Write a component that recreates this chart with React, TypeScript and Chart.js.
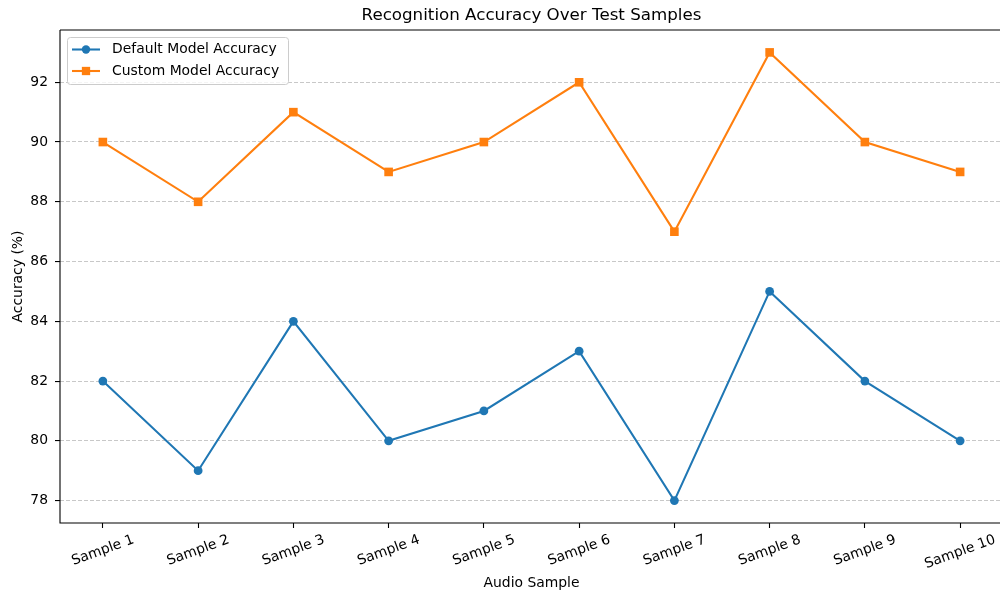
import React, { useEffect, useRef } from "react";
import { Chart, registerables } from "chart.js";

Chart.register(...registerables);

const categories = ["Sample 1", "Sample 2", "Sample 3", "Sample 4", "Sample 5", "Sample 6", "Sample 7", "Sample 8", "Sample 9", "Sample 10"];
const defaultAccuracy = [82, 79, 84, 80, 81, 83, 78, 85, 82, 80];
const customAccuracy = [90, 88, 91, 89, 90, 92, 87, 93, 90, 89];
const yTicks = [78, 80, 82, 84, 86, 88, 90, 92];
const seriesNames = ["Default Model Accuracy", "Custom Model Accuracy"];
const titleText = "Recognition Accuracy Over Test Samples";
const xTitle = "Audio Sample";
const yTitle = "Accuracy (%)";

const BLUE = "#1f77b4";
const ORANGE = "#ff7f0e";
const FONT = "'DejaVu Sans', sans-serif";
const W = 1010;
const H = 595;

const decorPlugin = {
  id: "decor",
  afterDatasetsDraw(chart: any) {
    const ctx = chart.ctx;
    const area = chart.chartArea;
    const xs = chart.scales.x;
    ctx.save();
    // spines: top, left, bottom
    ctx.strokeStyle = "#000";
    ctx.lineWidth = 1.1;
    ctx.setLineDash([]);
    ctx.beginPath();
    ctx.moveTo(area.left, area.top);
    ctx.lineTo(area.right + 10, area.top);
    ctx.moveTo(area.left, area.top);
    ctx.lineTo(area.left, area.bottom);
    ctx.lineTo(area.right + 10, area.bottom);
    ctx.stroke();

    // title
    ctx.fillStyle = "#000";
    ctx.font = `16.7px ${FONT}`;
    ctx.textAlign = "center";
    ctx.textBaseline = "middle";
    const cx = (area.left + area.right) / 2;
    ctx.fillText(titleText, cx, 16);

    // x title
    ctx.font = `13.9px ${FONT}`;
    ctx.fillText(xTitle, cx, 583);

    // y title
    ctx.save();
    ctx.translate(18, (area.top + area.bottom) / 2);
    ctx.rotate(-Math.PI / 2);
    ctx.fillText(yTitle, 0, 0);
    ctx.restore();

    // x tick labels rotated 20deg centered
    const rot = (20 * Math.PI) / 180;
    ctx.font = `13.9px ${FONT}`;
    categories.forEach((lab, i) => {
      const x = xs.getPixelForValue(i);
      const w = ctx.measureText(lab).width;
      const h = 14;
      const bh = w * Math.sin(rot) + h * Math.cos(rot);
      const cy = area.bottom + 9.8 + bh / 2;
      ctx.save();
      ctx.translate(x, cy);
      ctx.rotate(-rot);
      ctx.textAlign = "center";
      ctx.textBaseline = "middle";
      ctx.fillText(lab, 0, 0);
      ctx.restore();
    });

    // legend
    const lx = 67.5, ly = 37.5, lw = 221, lh = 47;
    ctx.beginPath();
    ctx.roundRect(lx, ly, lw, lh, 3);
    ctx.fillStyle = "rgba(255,255,255,0.8)";
    ctx.fill();
    ctx.strokeStyle = "#cccccc";
    ctx.lineWidth = 1;
    ctx.stroke();
    const rows = [49.5, 71];
    const colors = [BLUE, ORANGE];
    rows.forEach((ry, k) => {
      ctx.strokeStyle = colors[k];
      ctx.lineWidth = 2.08;
      ctx.beginPath();
      ctx.moveTo(72, ry);
      ctx.lineTo(100, ry);
      ctx.stroke();
      ctx.fillStyle = colors[k];
      if (k === 0) {
        ctx.beginPath();
        ctx.arc(86, ry, 4.2, 0, Math.PI * 2);
        ctx.fill();
      } else {
        ctx.fillRect(86 - 4.15, ry - 4.15, 8.3, 8.3);
      }
      ctx.fillStyle = "#000";
      ctx.textAlign = "left";
      ctx.textBaseline = "middle";
      ctx.font = `13.9px ${FONT}`;
      ctx.fillText(seriesNames[k], 112, ry);
    });
    ctx.restore();
  },
};

export default function App() {
  const ref = useRef<HTMLCanvasElement | null>(null);
  useEffect(() => {
    if (!ref.current) return;
    const chart = new Chart(ref.current, {
      type: "line",
      data: {
        datasets: [
          {
            label: seriesNames[0],
            data: defaultAccuracy.map((v, i) => ({ x: i, y: v })),
            borderColor: BLUE,
            backgroundColor: BLUE,
            borderWidth: 2.08,
            pointStyle: "circle",
            pointRadius: 4.4,
            pointBorderWidth: 0,
            pointBackgroundColor: BLUE,
            tension: 0,
          },
          {
            label: seriesNames[1],
            data: customAccuracy.map((v, i) => ({ x: i, y: v })),
            borderColor: ORANGE,
            backgroundColor: ORANGE,
            borderWidth: 2.08,
            pointStyle: "rect",
            pointRadius: 6.1,
            pointBorderWidth: 0,
            pointBackgroundColor: ORANGE,
            tension: 0,
          },
        ],
      },
      options: {
        responsive: false,
        animation: false,
        devicePixelRatio: 1,
        layout: { padding: { left: 0, right: 7, top: 30, bottom: 0 } },
        plugins: { legend: { display: false }, title: { display: false }, tooltip: { enabled: false } },
        scales: {
          x: {
            type: "linear",
            min: -0.45,
            max: 9.45,
            afterBuildTicks: (axis: any) => {
              axis.ticks = categories.map((_, i) => ({ value: i }));
            },
            afterFit: (axis: any) => {
              axis.height = 72;
            },
            ticks: { display: false },
            grid: {
              display: true,
              drawOnChartArea: false,
              drawTicks: true,
              tickLength: 5,
              tickColor: "#000",
              tickWidth: 1.1,
            },
            border: { display: false },
          },
          y: {
            type: "linear",
            min: 77.25,
            max: 93.75,
            afterBuildTicks: (axis: any) => {
              axis.ticks = yTicks.map((v) => ({ value: v }));
            },
            afterFit: (axis: any) => {
              axis.width = 60;
            },
            ticks: {
              color: "#000",
              font: { family: FONT, size: 13.9 },
              padding: 7,
              callback: (v: any) => String(v),
            },
            grid: {
              display: true,
              drawOnChartArea: true,
              drawTicks: true,
              tickLength: 5,
              color: "rgba(176,176,176,0.7)",
              lineWidth: 1.1,
              tickColor: "#000",
              tickWidth: 1.1,
              borderDash: [4, 2],
              tickBorderDash: [],
            },
            border: { display: false, dash: [4, 2] },
          },
        },
      },
      plugins: [decorPlugin],
    });
    return () => chart.destroy();
  }, []);
  return (
    <div style={{ position: "fixed", left: 0, top: 0, width: 1000, height: 595, overflow: "hidden", background: "#fff" }}>
      <canvas ref={ref} width={W} height={H} style={{ display: "block" }} />
    </div>
  );
}
